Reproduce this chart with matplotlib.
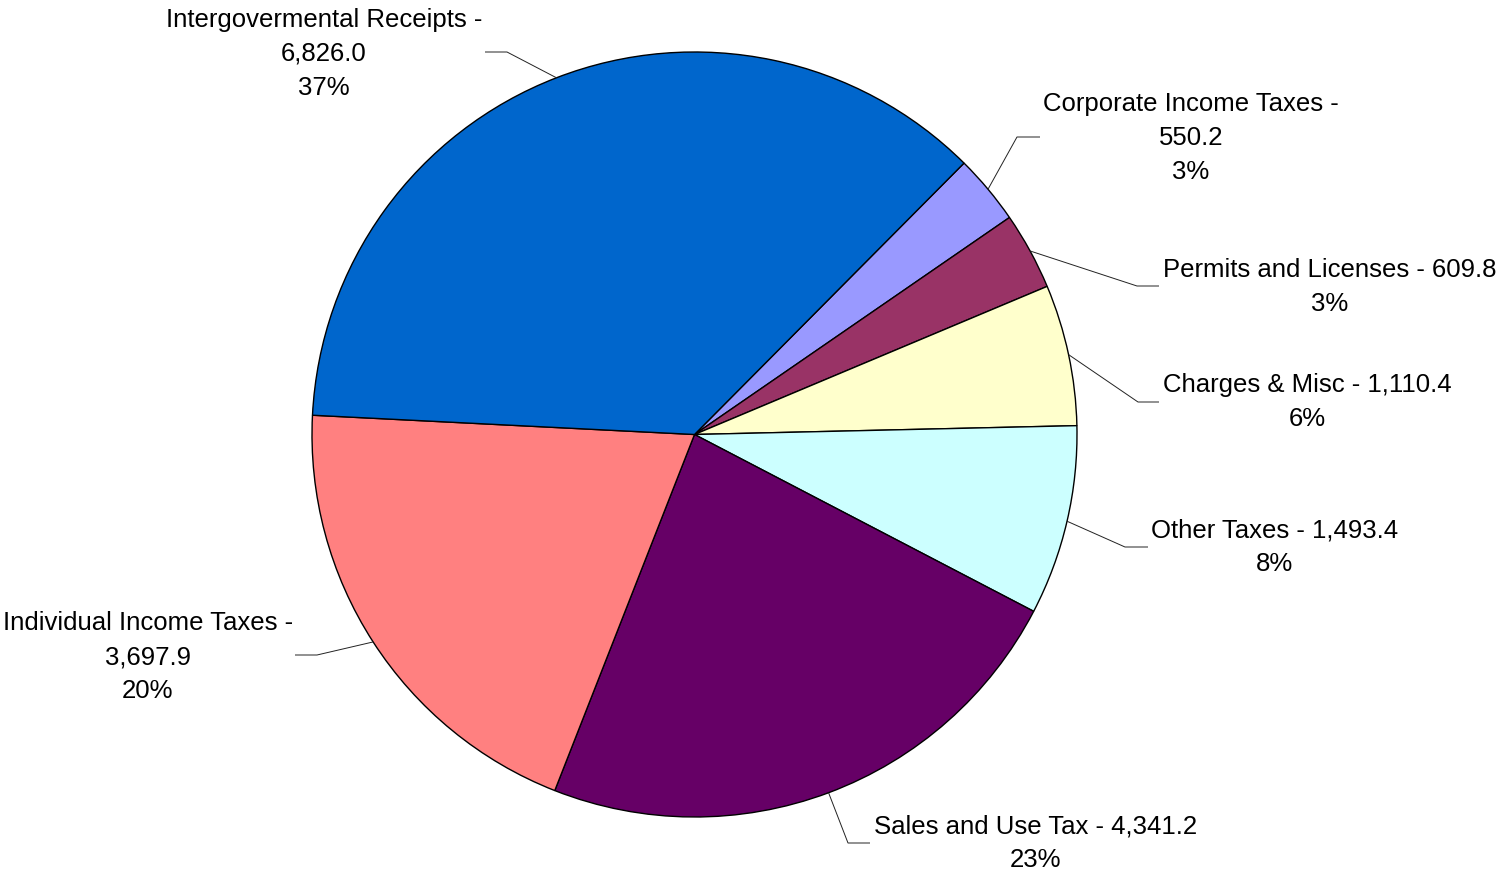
import numpy as np
import matplotlib
matplotlib.use("Agg")
import matplotlib.pyplot as plt

# ---- data (clockwise from the upper right) ----
categories = ["Corporate Income Taxes", "Permits and Licenses", "Charges & Misc",
              "Other Taxes", "Sales and Use Tax", "Individual Income Taxes",
              "Intergovermental Receipts"]
values = [550.2, 609.8, 1110.4, 1493.4, 4341.2, 3697.9, 6826.0]
wrap_name = [True, False, False, False, False, True, True]

colors = ["#9999FF", "#993366", "#FFFFCC", "#CCFFFF", "#660066", "#FF8080", "#0066CC"]

W, H = 1502, 872
fig = plt.figure(figsize=(W / 100, H / 100), dpi=100)
ax = fig.add_axes([0, 0, 1, 1])

cx, cy, r = 694.5, H - 434.5, 382.5
start = 45.2
wedges, _ = ax.pie(values, colors=colors, startangle=start, counterclock=False,
                   center=(cx, cy), radius=r,
                   wedgeprops=dict(edgecolor="black", linewidth=1.0))
ax.set_xlim(0, W)
ax.set_ylim(0, H)
ax.set_aspect("equal")
ax.axis("off")

# label layout: knee point, end of horizontal stub, text anchor x, alignment, text centre y (pixels from top)
layout = [
    (1017, 137, 1040, 1043, "left", 138),
    (1137, 286, 1159, 1163, "left", 287),
    (1138, 402, 1159, 1163, "left", 402),
    (1125, 547, 1148, 1151, "left", 547),
    (848, 843, 870, 874, "left", 843),
    (317, 655, 295, 293, "right", 657),
    (507, 52, 485, 482, "right", 54),
]

total = sum(values)
for w, name, v, wrap, lay in zip(wedges, categories, values, wrap_name, layout):
    kx, ky, ex, tx, ha, ty = lay
    mid = np.deg2rad((w.theta1 + w.theta2) / 2)
    px, py = cx + r * np.cos(mid), cy + r * np.sin(mid)
    ax.plot([px, kx, ex], [py, H - ky, H - ky], color="#222222", lw=0.7,
            solid_capstyle="butt", zorder=3)
    pct = round(100 * v / total)
    sep = "\n" if wrap else " "
    txt = f"{name} -{sep}{v:,.1f}\n{pct}%"
    ax.text(tx, H - ty, txt, ha=ha, va="center", multialignment="center",
            fontsize=18.5, family=["Liberation Sans", "DejaVu Sans"],
            linespacing=1.52, color="black")

fig.savefig("out.png", dpi=100, facecolor="white")
